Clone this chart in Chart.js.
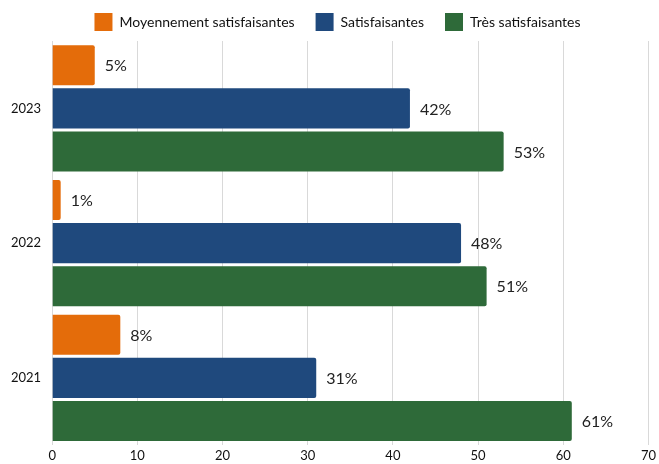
<!DOCTYPE html>
<html>
<head>
<meta charset="utf-8">
<script src="https://cdn.jsdelivr.net/npm/chart.js@4/dist/chart.umd.min.js"></script>
<style>
  html, body { margin: 0; padding: 0; background: #fff; }
  #wrap { width: 659px; height: 464px; }
</style>
</head>
<body>
<div id="wrap"><canvas id="chart"></canvas></div>
<script>
const years = ["2023", "2022", "2021"];
const moyennement = [5, 1, 8];
const satisfaisantes = [42, 48, 31];
const tresSatisfaisantes = [53, 51, 61];
const xTicks = [0, 10, 20, 30, 40, 50, 60, 70];

// draws "NN%" to the right of each bar
const barLabels = {
  id: "barLabels",
  afterDatasetsDraw(chart) {
    const ctx = chart.ctx;
    ctx.save();
    ctx.font = "16px Lato";
    ctx.fillStyle = "#222";
    ctx.textBaseline = "middle";
    chart.data.datasets.forEach((ds, i) => {
      chart.getDatasetMeta(i).data.forEach((bar, j) => {
        ctx.fillText(ds.data[j] + "%", bar.x + 10, bar.y + 1);
      });
    });
    ctx.restore();
  },
};

// legend padding also spaces the items; keep its height fixed and nudge it right
const legendTweak = {
  id: "legendTweak",
  afterInit(chart) {
    const legend = chart.legend;
    const fit = legend.fit;
    const draw = legend.draw;
    legend.fit = function () {
      fit.call(this);
      this.height = 49;
    };
    legend.draw = function () {
      const ctx = this.ctx;
      ctx.save();
      ctx.translate(5, 0);
      draw.call(this);
      ctx.restore();
    };
  },
};

new Chart(document.getElementById("chart"), {
  type: "bar",
  data: {
    labels: years,
    datasets: [
      {
        label: "Moyennement satisfaisantes",
        data: moyennement,
        backgroundColor: "#E46C0A",
        borderRadius: 2,
        borderSkipped: "left",
      },
      {
        label: "Satisfaisantes",
        data: satisfaisantes,
        backgroundColor: "#1F497D",
        borderRadius: 2,
        borderSkipped: "left",
      },
      {
        label: "Très satisfaisantes",
        data: tresSatisfaisantes,
        backgroundColor: "#2E6A39",
        borderRadius: 2,
        borderSkipped: "left",
      },
    ],
  },
  options: {
    indexAxis: "y",
    responsive: true,
    maintainAspectRatio: false,
    animation: false,
    categoryPercentage: 0.96,
    barPercentage: 0.93,
    layout: { padding: { left: 0, right: -6, top: -8, bottom: -10 } },
    scales: {
      x: {
        min: 0,
        max: 70,
        afterBuildTicks: (axis) => {
          axis.ticks = xTicks.map((v) => ({ value: v }));
        },
        grid: { color: "#d9d9d9", drawTicks: false },
        border: { display: false },
        ticks: { color: "#111", font: { family: "Lato", size: 13 }, padding: 3 },
      },
      y: {
        grid: { display: false, drawTicks: false },
        border: { display: false },
        ticks: { color: "#111", font: { family: "Lato", size: 13 }, padding: 11 },
      },
    },
    plugins: {
      legend: {
        position: "top",
        labels: {
          boxWidth: 18,
          boxHeight: 18,
          color: "#111",
          font: { family: "Lato", size: 14 },
          padding: 21,
        },
      },
      tooltip: { enabled: false },
    },
  },
  plugins: [barLabels, legendTweak],
});
</script>
</body>
</html>
